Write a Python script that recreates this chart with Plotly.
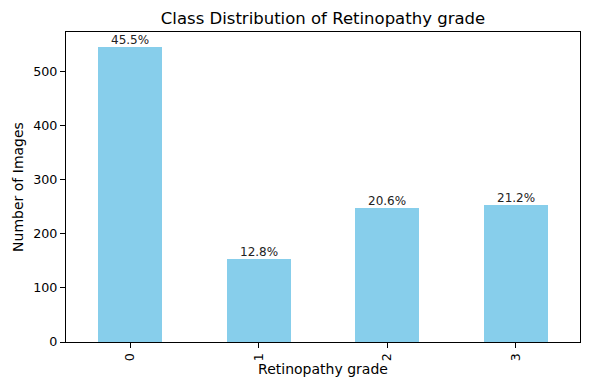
import plotly.graph_objects as go

grades = ["0", "1", "2", "3"]
counts = [546, 153, 247, 254]

total = sum(counts)
pcts = [f"{c / total * 100:.1f}%" for c in counts]

fig = go.Figure()
fig.add_trace(go.Bar(
    x=[0, 1, 2, 3], y=counts, width=0.5,
    marker=dict(color="#87CEEB", line=dict(width=0)),
    hoverinfo="skip",
))
for i, (c, p) in enumerate(zip(counts, pcts)):
    fig.add_annotation(x=i, y=c, text=p, showarrow=False, yanchor="bottom",
                       yshift=-2, font=dict(family="DejaVu Sans", size=12, color="#222222"))
tickfont = dict(family="DejaVu Sans", size=12.7, color="black")
labfont = dict(family="DejaVu Sans", size=14, color="black")
fig.update_layout(
    width=590, height=390,
    margin=dict(l=66, r=10, t=32, b=48),
    plot_bgcolor="white", paper_bgcolor="white",
    font=tickfont, showlegend=False,
    bargap=0,
    title=dict(text="Class Distribution of Retinopathy grade", x=(66 + 580) / 2 / 590, xanchor="center",
               y=1 - 18 / 390, yanchor="middle", font=dict(family="DejaVu Sans", size=16.5, color="black")),
    xaxis=dict(range=[-0.5, 3.5], tickvals=[0, 1, 2, 3], ticktext=grades, tickangle=-90,
               ticks="outside", ticklen=5, tickcolor="black", showline=True, linecolor="black",
               linewidth=1.2, mirror=True, showgrid=False, zeroline=False, automargin=False,
               title=dict(text="Retinopathy grade", standoff=2, font=labfont), tickfont=tickfont),
    yaxis=dict(range=[0, 573.3], tickvals=[0, 100, 200, 300, 400, 500],
               ticks="outside", ticklen=5, tickcolor="black", showline=True, linecolor="black",
               linewidth=1.2, mirror=True, showgrid=False, zeroline=False, automargin=False,
               title=dict(text="Number of Images", standoff=6, font=labfont), tickfont=tickfont),
)
fig.write_html("out.html", config={"displayModeBar": False},
               post_script="document.body.style.margin='0';")
